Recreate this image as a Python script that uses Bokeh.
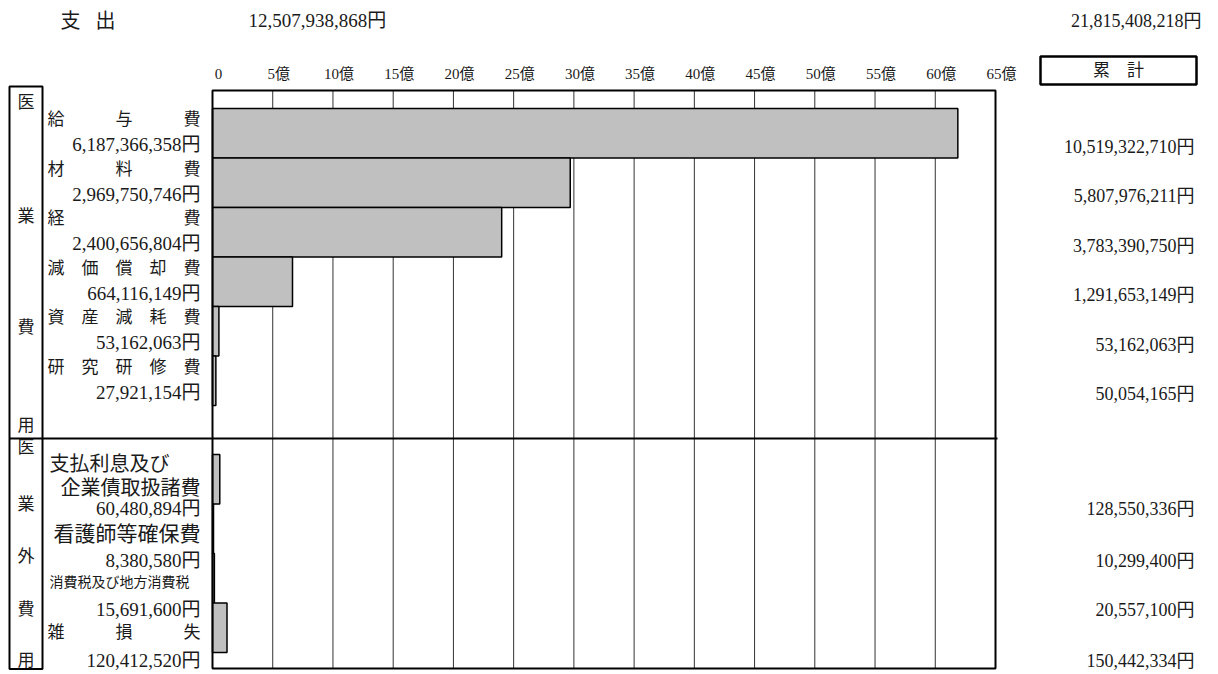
from bokeh.plotting import figure
from bokeh.models import Range1d
from bokeh.core.properties import value
from bokeh.embed import file_html
from bokeh.resources import INLINE

# ---------------- data ----------------
total_label = "支出"
total_value = 12507938868
total_cumulative = 21815408218
cumulative_header = "累　計"

section_op = ["医", "業", "費", "用"]
section_nonop = ["医", "業", "外", "費", "用"]

op_labels = ["給　　　与　　　費", "材　　　料　　　費", "経　　　　　　　費",
             "減　価　償　却　費", "資　産　減　耗　費", "研　究　研　修　費"]
op_values = [6187366358, 2969750746, 2400656804, 664116149, 53162063, 27921154]
op_cumulative = [10519322710, 5807976211, 3783390750, 1291653149, 53162063, 50054165]

nonop_labels = ["支払利息及び\n　企業債取扱諸費", "看護師等確保費", "消費税及び地方消費税", "雑　　　損　　　失"]
nonop_values = [60480894, 8380580, 15691600, 120412520]
nonop_cumulative = [128550336, 10299400, 20557100, 150442334]

tick_values = [0, 5, 10, 15, 20, 25, 30, 35, 40, 45, 50, 55, 60, 65]
tick_labels = ["0", "5億", "10億", "15億", "20億", "25億", "30億", "35億",
               "40億", "45億", "50億", "55億", "60億", "65億"]
UNIT = 1e8  # 億

# ---------------- layout ----------------
FONT = value("'Liberation Serif', 'Noto Sans CJK JP'")
INK = "#1a1a1a"
W, H = 1212, 670
CH_L, CH_R, CH_T, CH_B = 212, 995, 90, 668   # chart box (page px)
ppu = (CH_R - CH_L) / tick_values[-1]
ROW = 49.5
OP_TOP = 108
NONOP_TOP = 454
SEP_Y = 438

p = figure(width=W, height=H, output_backend="svg", toolbar_location=None,
           x_range=Range1d(-CH_L / ppu, (W - CH_L) / ppu),
           y_range=Range1d(H, 0),
           x_axis_location=None, y_axis_location=None,
           min_border=0, outline_line_color=None,
           background_fill_color="white", border_fill_color="white")
p.extra_x_ranges = {"px": Range1d(0, W)}
p.grid.visible = False

# grid lines (inner ticks)
inner = tick_values[1:-1]
p.segment(x0=inner, x1=inner, y0=[CH_T] * len(inner), y1=[CH_B] * len(inner),
          line_color="#333333", line_width=1)

# bars
op_tops = [OP_TOP + ROW * i for i in range(len(op_values))]
p.quad(left=[0] * len(op_values), right=[v / UNIT for v in op_values],
       top=op_tops, bottom=[t + ROW for t in op_tops],
       fill_color="#c0c0c0", line_color="black", line_width=1.5)
nonop_tops = [NONOP_TOP + ROW * i for i in range(len(nonop_values))]
p.quad(left=[0] * len(nonop_values), right=[v / UNIT for v in nonop_values],
       top=nonop_tops, bottom=[t + ROW for t in nonop_tops],
       fill_color="#c0c0c0", line_color="black", line_width=1.5)

# chart frame
p.quad(left=[tick_values[0]], right=[tick_values[-1]], top=[CH_T], bottom=[CH_B],
       fill_color=None, line_color="black", line_width=2)

# separator, left section box, header box
p.segment(x0=[9], x1=[CH_R + 2], y0=[SEP_Y], y1=[SEP_Y], line_color="black",
          line_width=2, x_range_name="px")
p.quad(left=[9], right=[42], top=[86], bottom=[668.5], fill_color=None,
       line_color="black", line_width=2, x_range_name="px")
p.quad(left=[1040], right=[1196], top=[56], bottom=[84], fill_color=None,
       line_color="black", line_width=2.5, x_range_name="px")

# tick labels (top)
p.text(x=tick_values, y=[73] * len(tick_values), text=tick_labels, x_offset=6,
       text_font=FONT, text_font_size="15px", text_align="center",
       text_baseline="middle", text_color=INK)

def txt(x, y, s, size, align="left"):
    p.text(x=[x], y=[y], text=[s], text_font=FONT, text_font_size=size,
           text_align=align, text_baseline="middle", text_color=INK,
           x_range_name="px")

# title row
txt(60, 20, total_label[0], "20px")
txt(95, 20, total_label[1], "20px")
txt(248, 20, f"{total_value:,}円", "19px")
txt(1201, 20, f"{total_cumulative:,}円", "18px", "right")
txt(1118, 70, cumulative_header, "17px", "center")

# vertical section captions
for ch, y in zip(section_op, [102, 216, 327, 425]):
    txt(25.5, y, ch, "17px", "center")
for ch, y in zip(section_nonop, [447, 504, 556, 609, 660]):
    txt(25.5, y, ch, "17px", "center")

# operating expense rows
for i, (lab, v, c) in enumerate(zip(op_labels, op_values, op_cumulative)):
    t = op_tops[i]
    txt(200, t + 11, lab, "17px", "right")
    txt(200, t + 36, f"{v:,}円", "19px", "right")
    txt(1194, t + 38, f"{c:,}円", "18px", "right")

# non-operating rows
lab0a, lab0b = nonop_labels[0].split("\n")
txt(49, 463, lab0a, "20px")
txt(200, 487, lab0b, "20px", "right")
txt(200, 533, nonop_labels[1], "21px", "right")
txt(49, 582, nonop_labels[2], "14px")
txt(200, 632, nonop_labels[3], "17px", "right")
for v, c, y in zip(nonop_values, nonop_cumulative, [508, 560, 609, 660]):
    txt(200, y, f"{v:,}円", "19px", "right")
    txt(1194, y, f"{c:,}円", "18px", "right")

open("out.html", "w").write(file_html(p, INLINE))
